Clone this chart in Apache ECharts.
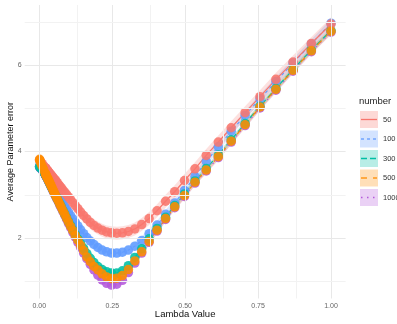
<!DOCTYPE html>
<html>
<head>
<meta charset="utf-8">
<script src="https://cdn.jsdelivr.net/npm/echarts@6/dist/echarts.min.js"></script>
<style>html,body{margin:0;padding:0;background:#fff}#chart{width:397px;height:324px}</style>
</head>
<body>
<div id="chart"></div>
<script>
// ---- data ----
const lambdaValues = [0.001,0.002,0.005,0.01,0.015,0.0201,0.0215,0.0231,0.0248,0.0266,0.0285,0.0305,0.0327,0.0351,0.0376,0.0404,0.0433,0.0464,0.0498,0.0534,0.0572,0.0614,0.0658,0.0705,0.0756,0.0811,0.0870,0.0933,0.1000,0.1072,0.1150,0.1233,0.1322,0.1417,0.1520,0.1630,0.1748,0.1874,0.2009,0.2154,0.2310,0.2477,0.2656,0.2848,0.3054,0.3275,0.3511,0.3765,0.4037,0.4329,0.4642,0.4977,0.5337,0.5722,0.6136,0.6579,0.7055,0.7565,0.8111,0.8697,0.9326,1.0];
const err50 = [3.80,3.79,3.76,3.72,3.67,3.63,3.62,3.60,3.59,3.57,3.56,3.54,3.52,3.50,3.48,3.46,3.43,3.41,3.38,3.35,3.32,3.28,3.24,3.20,3.16,3.11,3.06,3.01,2.95,2.89,2.82,2.75,2.68,2.60,2.52,2.44,2.36,2.29,2.23,2.18,2.14,2.12,2.11,2.12,2.15,2.21,2.31,2.45,2.63,2.85,3.07,3.33,3.60,3.91,4.22,4.55,4.90,5.27,5.67,6.07,6.50,6.95];
const err100 = [3.66,3.65,3.62,3.58,3.53,3.48,3.46,3.45,3.43,3.41,3.39,3.37,3.35,3.32,3.29,3.26,3.23,3.20,3.16,3.12,3.08,3.03,2.98,2.93,2.87,2.81,2.74,2.67,2.60,2.52,2.44,2.36,2.28,2.19,2.10,2.01,1.93,1.85,1.78,1.72,1.68,1.65,1.65,1.67,1.72,1.81,1.94,2.10,2.30,2.55,2.81,3.10,3.42,3.77,4.11,4.47,4.84,5.22,5.62,6.05,6.49,6.97];
const err300 = [3.65,3.64,3.62,3.58,3.53,3.48,3.46,3.44,3.42,3.40,3.37,3.34,3.31,3.28,3.24,3.20,3.16,3.12,3.07,3.02,2.97,2.91,2.85,2.79,2.72,2.64,2.56,2.47,2.38,2.29,2.19,2.09,1.98,1.87,1.76,1.64,1.53,1.43,1.34,1.27,1.22,1.19,1.19,1.24,1.36,1.55,1.75,1.98,2.22,2.48,2.75,3.02,3.32,3.61,3.92,4.27,4.65,5.05,5.46,5.90,6.35,6.80];
const err500 = [3.82,3.79,3.74,3.66,3.58,3.50,3.48,3.46,3.43,3.41,3.38,3.35,3.32,3.29,3.25,3.21,3.17,3.12,3.07,3.02,2.97,2.91,2.85,2.78,2.71,2.63,2.55,2.46,2.37,2.27,2.17,2.06,1.95,1.83,1.71,1.56,1.45,1.34,1.26,1.17,1.10,1.06,1.07,1.13,1.27,1.47,1.68,1.92,2.18,2.45,2.72,2.98,3.29,3.57,3.88,4.24,4.62,5.03,5.44,5.88,6.33,6.78];
const err1000 = [3.64,3.63,3.61,3.57,3.52,3.47,3.45,3.43,3.41,3.39,3.36,3.33,3.30,3.27,3.23,3.19,3.15,3.10,3.05,3.00,2.95,2.89,2.83,2.76,2.69,2.61,2.53,2.44,2.34,2.24,2.13,2.02,1.90,1.78,1.65,1.52,1.39,1.26,1.14,1.03,0.95,0.91,0.93,1.02,1.20,1.42,1.65,1.90,2.16,2.43,2.70,2.96,3.27,3.55,3.86,4.22,4.60,5.01,5.42,5.86,6.31,6.76];
const groupNames = ['50','100','300','500','1000'];
const bandHalfWidth = [0.15,0.10,0.06,0.07,0.06];
const xTickLabels = [0, 0.25, 0.5, 0.75, 1];
const yTickLabels = [2, 4, 6];

// ---- style ----
const values = [err50, err100, err300, err500, err1000];
const colors = ['#F8766D','#619CFF','#00BFA5','#FF8C00','#B45ADB'];
const dashes = ['solid',[3,3],[6,3],[6,6],[1.5,4.5]];
const drawOrder = [1,4,2,0,3]; // 100,1000,300,50,500
const FONT = 'Liberation Sans, Arial, sans-serif';

const series = [];
series.push({
  type:'line', data:[], silent:true, z:0,
  markLine:{
    silent:true, symbol:'none', animation:false, label:{show:false},
    data:[
      ...[0,0.25,0.5,0.75,1].map(v=>({xAxis:v, lineStyle:{color:'#E8E8E8',width:1,type:'solid'}})),
      ...[0.125,0.375,0.625,0.875].map(v=>({xAxis:v, lineStyle:{color:'#F2F2F2',width:1,type:'solid'}})),
      ...[2,4,6].map(v=>({yAxis:v, lineStyle:{color:'#E8E8E8',width:1,type:'solid'}})),
      ...[1,3,5,7].map(v=>({yAxis:v, lineStyle:{color:'#F2F2F2',width:1,type:'solid'}}))
    ]
  }
});
// ribbons (custom polygons through axis coords)
drawOrder.forEach(k=>{
  const h = bandHalfWidth[k];
  const data = lambdaValues.map((x,i)=>[x, values[k][i]-h, values[k][i]+h]);
  series.push({type:'custom', silent:true, z:1, clip:true,
    encode:{x:0, y:[1,2]},
    data: data,
    renderItem:(params, api)=>{
      if (params.dataIndex !== 0) return null;
      const pts = [];
      for (let i=0;i<data.length;i++) pts.push(api.coord([data[i][0], data[i][2]]));
      for (let i=data.length-1;i>=0;i--) pts.push(api.coord([data[i][0], data[i][1]]));
      return {type:'polygon', shape:{points:pts}, style:{fill:colors[k], opacity:0.22}};
    }
  });
});
// lines
drawOrder.forEach(k=>{
  series.push({type:'line', name:groupNames[k], showSymbol:false, silent:true, z:2,
    lineStyle:{color:colors[k], width:1.2, type:dashes[k]},
    data: lambdaValues.map((x,i)=>[x, values[k][i]])});
});
// points
drawOrder.forEach(k=>{
  series.push({type:'scatter', name:groupNames[k], symbolSize:9.5, silent:true, z:3,
    itemStyle:{color:colors[k], opacity:0.88},
    data: lambdaValues.map((x,i)=>[x, values[k][i]])});
});

// legend graphics
const legendEls = [{type:'text', left:359, top:96, style:{text:'number', fontSize:9.5, fill:'#222', fontFamily:FONT}}];
groupNames.forEach((name,k)=>{
  const top = 111 + k*19.5;
  legendEls.push({type:'rect', shape:{x:360,y:top,width:18,height:17}, style:{fill:colors[k], opacity:0.28}});
  legendEls.push({type:'line', shape:{x1:361,y1:top+8.5,x2:377,y2:top+8.5}, style:{stroke:colors[k], lineWidth:1.3, lineDash: dashes[k]==='solid'?null:dashes[k]}});
  legendEls.push({type:'text', left:383, top:top+4.5, style:{text:name, fontSize:7.5, fill:'#333', fontFamily:FONT}});
});

const chart = echarts.init(document.getElementById('chart'), null, {renderer:'canvas'});
chart.setOption({
  animation:false,
  backgroundColor:'#fff',
  grid:{left:24.7, right:51.4, top:5, bottom:25.5, containLabel:false, outerBoundsMode:'none'},
  xAxis:{type:'value', min:-0.05, max:1.05,
    name:'Lambda Value', nameLocation:'middle', nameGap:11, nameMoveOverlap:false,
    nameTextStyle:{fontSize:9.5, color:'#111', fontFamily:FONT},
    axisLine:{show:false}, axisTick:{show:false}, splitLine:{show:false},
    axisLabel:{customValues:xTickLabels, formatter:v=>v.toFixed(2), fontSize:7, color:'#666', margin:4, fontFamily:FONT}},
  yAxis:{type:'value', min:0.6, max:7.39,
    name:'Average Parameter error', nameLocation:'middle', nameGap:10, nameMoveOverlap:false,
    nameTextStyle:{fontSize:9, color:'#111', fontFamily:FONT},
    axisLine:{show:false}, axisTick:{show:false}, splitLine:{show:false},
    axisLabel:{customValues:yTickLabels, fontSize:7, color:'#666', margin:3, fontFamily:FONT}},
  graphic: legendEls,
  series: series
});
</script>
</body>
</html>
